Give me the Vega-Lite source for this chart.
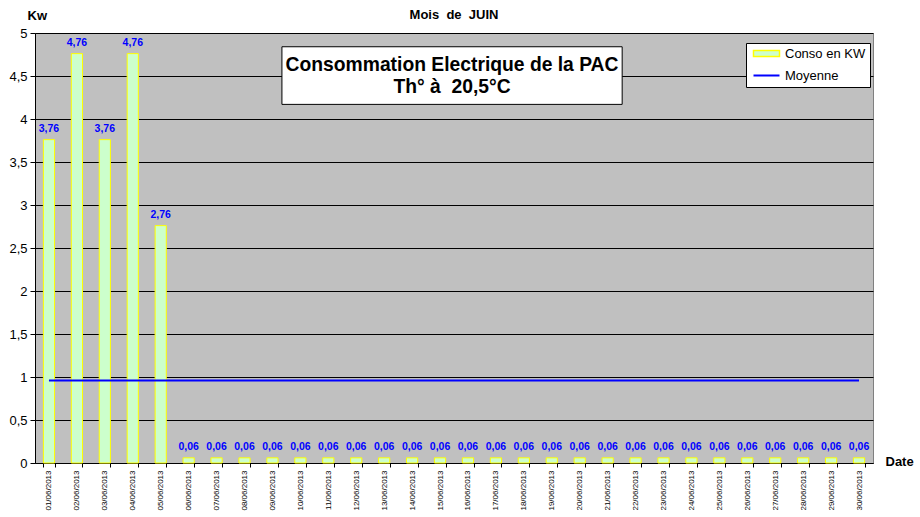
{
  "$schema": "https://vega.github.io/schema/vega-lite/v6.json",
  "width": 838,
  "height": 430,
  "autosize": {"type": "none"},
  "padding": {"left": 35, "top": 33, "right": 47, "bottom": 54},
  "background": "white",
  "config": {
    "font": "Liberation Sans",
    "view": {"stroke": "#808080", "fill": "#C0C0C0"},
    "locale": {"number": {"decimal": ",", "thousands": " ", "grouping": [3], "currency": ["", " €"]}}
  },
  "title": {
    "text": "Mois\u00a0 de\u00a0 JUIN",
    "anchor": "middle",
    "font": "Liberation Sans",
    "fontSize": 13,
    "fontWeight": "bold",
    "color": "black",
    "offset": -26,
    "baseline": "bottom"
  },
  "data": {
    "values": [
      {"date": "01/06/2013", "kw": 3.76, "moyenne": 0.96},
      {"date": "02/06/2013", "kw": 4.76, "moyenne": 0.96},
      {"date": "03/06/2013", "kw": 3.76, "moyenne": 0.96},
      {"date": "04/06/2013", "kw": 4.76, "moyenne": 0.96},
      {"date": "05/06/2013", "kw": 2.76, "moyenne": 0.96},
      {"date": "06/06/2013", "kw": 0.06, "moyenne": 0.96},
      {"date": "07/06/2013", "kw": 0.06, "moyenne": 0.96},
      {"date": "08/06/2013", "kw": 0.06, "moyenne": 0.96},
      {"date": "09/06/2013", "kw": 0.06, "moyenne": 0.96},
      {"date": "10/06/2013", "kw": 0.06, "moyenne": 0.96},
      {"date": "11/06/2013", "kw": 0.06, "moyenne": 0.96},
      {"date": "12/06/2013", "kw": 0.06, "moyenne": 0.96},
      {"date": "13/06/2013", "kw": 0.06, "moyenne": 0.96},
      {"date": "14/06/2013", "kw": 0.06, "moyenne": 0.96},
      {"date": "15/06/2013", "kw": 0.06, "moyenne": 0.96},
      {"date": "16/06/2013", "kw": 0.06, "moyenne": 0.96},
      {"date": "17/06/2013", "kw": 0.06, "moyenne": 0.96},
      {"date": "18/06/2013", "kw": 0.06, "moyenne": 0.96},
      {"date": "19/06/2013", "kw": 0.06, "moyenne": 0.96},
      {"date": "20/06/2013", "kw": 0.06, "moyenne": 0.96},
      {"date": "21/06/2013", "kw": 0.06, "moyenne": 0.96},
      {"date": "22/06/2013", "kw": 0.06, "moyenne": 0.96},
      {"date": "23/06/2013", "kw": 0.06, "moyenne": 0.96},
      {"date": "24/06/2013", "kw": 0.06, "moyenne": 0.96},
      {"date": "25/06/2013", "kw": 0.06, "moyenne": 0.96},
      {"date": "26/06/2013", "kw": 0.06, "moyenne": 0.96},
      {"date": "27/06/2013", "kw": 0.06, "moyenne": 0.96},
      {"date": "28/06/2013", "kw": 0.06, "moyenne": 0.96},
      {"date": "29/06/2013", "kw": 0.06, "moyenne": 0.96},
      {"date": "30/06/2013", "kw": 0.06, "moyenne": 0.96}
    ]
  },
  "resolve": {"scale": {"x": "independent"}, "axis": {"x": "independent"}},
  "layer": [
    {
      "encoding": {
        "x": {
          "field": "date",
          "type": "ordinal",
          "sort": null,
          "scale": {"paddingInner": 0.6, "paddingOuter": 0.3},
          "axis": {
            "title": "Date",
            "titleX": 850,
            "titleY": -2,
            "titleAngle": 0,
            "titleAlign": "left",
            "titleBaseline": "middle",
            "titleFont": "Liberation Sans",
            "titleFontSize": 13,
            "titleFontWeight": "bold",
            "titleColor": "black",
            "labelAngle": -90,
            "labelAlign": "right",
            "labelBaseline": "middle",
            "labelFont": "Liberation Sans",
            "labelFontSize": 8,
            "labelColor": "black",
            "labelPadding": 3,
            "tickBand": "extent",
            "tickSize": 4,
            "tickColor": "black",
            "domainColor": "black",
            "grid": false
          }
        }
      },
      "layer": [
        {
          "mark": {"type": "bar", "stroke": "#FFFF00", "strokeWidth": 1},
          "encoding": {
            "y": {
              "field": "kw",
              "type": "quantitative",
              "scale": {"domain": [0, 5]},
              "axis": {
                "values": [0, 0.5, 1, 1.5, 2, 2.5, 3, 3.5, 4, 4.5, 5],
                "format": "~f",
                "title": "Kw",
                "titleAngle": 0,
                "titleX": -8,
                "titleY": -18,
                "titleAlign": "left",
                "titleBaseline": "middle",
                "titleFont": "Liberation Sans",
                "titleFontSize": 13,
                "titleFontWeight": "bold",
                "titleColor": "black",
                "labelFont": "Liberation Sans",
                "labelFontSize": 13,
                "labelColor": "black",
                "labelPadding": 3,
                "tickSize": 5,
                "tickColor": "black",
                "domainColor": "black",
                "gridColor": "black",
                "gridOpacity": 1,
                "gridWidth": 1
              }
            },
            "color": {
              "datum": "Conso en KW",
              "type": "nominal",
              "scale": {"domain": ["Conso en KW", "Moyenne"], "range": ["#CCFFCC", "#0000FF"]},
              "legend": {
                "orient": "none",
                "legendX": 711,
                "legendY": 10,
                "title": null,
                "fillColor": "white",
                "strokeColor": "black",
                "padding": 4,
                "symbolSize": 100,
                "symbolType": {"expr": "datum.value === 'Moyenne' ? 'M-0.6,0H4.6' : 'M-0.6,-0.6H4.6V0.6H-0.6Z'"},
                "symbolStrokeColor": {"expr": "datum.value === 'Moyenne' ? '#0000FF' : '#FFFF00'"},
                "symbolFillColor": {"expr": "datum.value === 'Moyenne' ? 'transparent' : '#CCFFCC'"},
                "symbolStrokeWidth": {"expr": "datum.value === 'Moyenne' ? 2 : 1.5"},
                "symbolOpacity": 1,
                "labelFont": "Liberation Sans",
                "labelFontSize": 13,
                "labelColor": "black",
                "rowPadding": 8,
                "labelOffset": 22
              }
            }
          }
        },
        {
          "mark": {"type": "text", "baseline": "bottom", "dy": -6, "color": "#0000FF", "fontWeight": "bold", "fontSize": 10.5, "font": "Liberation Sans"},
          "encoding": {
            "y": {"field": "kw", "type": "quantitative"},
            "text": {"field": "kw", "type": "quantitative", "format": ".2f"}
          }
        },
        {
          "mark": {"type": "line", "strokeWidth": 2, "color": "#0000FF"},
          "encoding": {
            "y": {"field": "moyenne", "type": "quantitative"}
          }
        }
      ]
    },
    {
      "data": {"values": [{}]},
      "layer": [
        {
          "mark": {"type": "rect", "fill": "white", "stroke": "black", "strokeWidth": 1},
          "encoding": {
            "x": {"datum": 8.84, "type": "quantitative", "scale": {"domain": [0, 30]}, "axis": null},
            "x2": {"datum": 21.02},
            "y": {"datum": 4.84, "type": "quantitative"},
            "y2": {"datum": 4.17}
          }
        },
        {
          "mark": {
            "type": "text",
            "text": ["Consommation Electrique de la PAC", "Th° à\u00a0 20,5°C"],
            "font": "Liberation Sans",
            "fontSize": 19.3,
            "fontWeight": "bold",
            "color": "black",
            "align": "center",
            "baseline": "middle",
            "lineHeight": 22
          },
          "encoding": {
            "x": {"datum": 14.93, "type": "quantitative"},
            "y": {"datum": 4.63, "type": "quantitative"}
          }
        }
      ]
    }
  ]
}
